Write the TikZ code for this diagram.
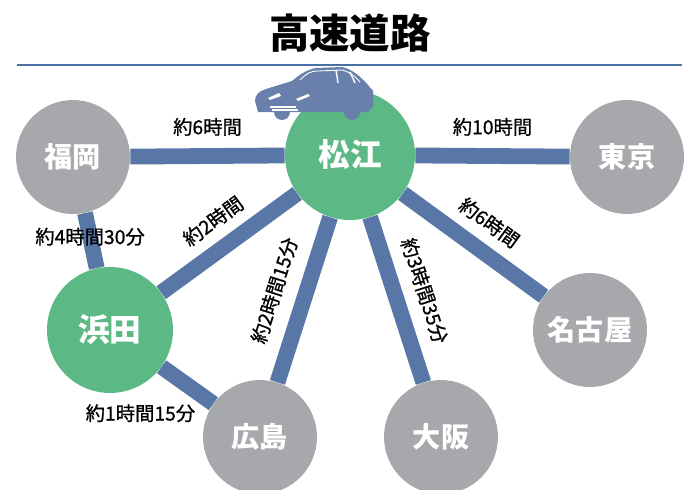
\documentclass[tikz,border=0pt]{standalone}
\usepackage{fontspec}
\newfontfamily\jp{Noto Sans CJK JP}
\newfontfamily\jpmid[FakeBold=0.9]{Noto Sans CJK JP}

\definecolor{roadblue}{RGB}{88,118,166}
\definecolor{carblue}{RGB}{106,128,172}
\definecolor{citygray}{RGB}{167,168,172}
\definecolor{hubgreen}{RGB}{92,184,133}
\definecolor{ruleblue}{RGB}{74,112,168}

\tikzset{
  city/.style={circle, fill=citygray, text=white, inner sep=0pt,
    minimum size=2.28cm, font=\jp\bfseries\fontsize{16}{16}\selectfont},
  hub/.style={city, fill=hubgreen, font=\jp\bfseries\fontsize{18}{18}\selectfont},
  road/.style={draw=roadblue, line width=9pt},
  hours/.style={font=\jpmid\fontsize{11}{11}\selectfont, inner sep=1pt}
}

\begin{document}
\begin{tikzpicture}[x=0.02cm, y=-0.02cm]

	\useasboundingbox (0,0) rectangle (691,490);

	\node (title) at (350,33) {\jp\bfseries\fontsize{23}{23}\selectfont 高速道路};
	\coordinate (rulel) at (17,65);
	\coordinate (ruler) at (682,65);
	\draw[ruleblue, line width=1pt] (rulel) -- (ruler);

	% cities
	\foreach \n/\x/\y/\t in {fukuoka/73/157/福岡, tokyo/627/157/東京,
	    nagoya/590/330/名古屋, hiroshima/260/437/広島, osaka/441/437/大阪} {
	    \node[city] (\n) at (\x,\y) {\t};
	}
	\node[hub, minimum size=2.6cm] (matsue) at (350,155) {松江};
	\node[hub, minimum size=2.52cm] (hamada) at (110,330) {浜田};

	% roads
	\draw[road] (fukuoka) -- node[hours, above=6pt] {約6時間} (matsue);
	\draw[road] (matsue) -- node[hours, above=6pt] {約10時間} (tokyo);
	\draw[road] (fukuoka) -- node[hours, pos=0.43] {約4時間30分} (hamada);
	\draw[road] (hamada) -- node[hours, sloped, above=5pt] {約2時間} (matsue);
	\draw[road] (hiroshima) -- node[hours, sloped, above=7pt] {約2時間15分} (matsue);
	\draw[road] (matsue) -- node[hours, sloped, above=6pt] {約3時間35分} (osaka);
	\draw[road] (matsue) -- node[hours, sloped, above=5pt] {約6時間} (nagoya);
	\draw[road] (hamada) -- node[hours, shift={(-47,28)}] {約1時間15分} (hiroshima);

	% car
	\fill[carblue] (258,112) -- (255,101) .. controls (255,95) and (259,91) .. (266,89)
	    -- (292,81) .. controls (299,75) and (306,70) .. (316,68)
	    -- (342,67) .. controls (352,69) and (361,77) .. (368,85)
	    -- (373,91) -- (373,106) -- (368,112) -- cycle;
	\fill[carblue] (282,112) circle (8);
	\fill[carblue] (352,112) circle (8);
	\draw[white, line width=0.5pt] (300,80) .. controls (306,74) and (310,71) .. (318,71)
	    -- (342,70) .. controls (350,72) and (356,77) .. (360,82);
	\draw[white, line width=0.8pt] (336,70) -- (338,83);
	\draw[white, line width=0.8pt] (350,72) -- (355,83);
	\fill[white] (268,98) -- (279,93) -- (281,96) -- (270,100) -- cycle;
	\fill[white] (296,99) -- (308,94) -- (310,96) -- (298,101) -- cycle;
	\draw[white, line width=0.8pt] (270,107) -- (296,107);
	\draw[white, line width=0.8pt] (272,110) -- (298,110);

\end{tikzpicture}
\end{document}
